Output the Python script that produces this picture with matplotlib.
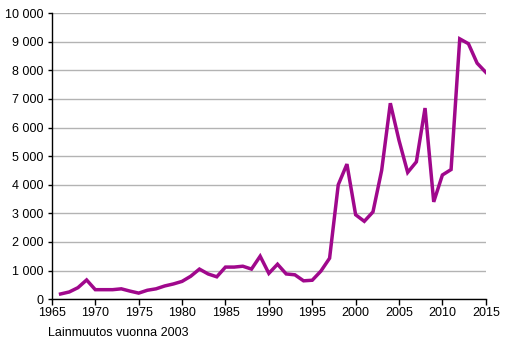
import matplotlib
matplotlib.use('Agg')
import matplotlib.pyplot as plt
from matplotlib.ticker import FuncFormatter

plt.rcParams['font.family'] = ['Liberation Sans', 'DejaVu Sans']

# ── 데이터 ──
years = list(range(1966, 2016))
values = [180, 250, 400, 670, 330, 330, 330, 360, 280, 210,
          310, 360, 460, 530, 620, 800, 1050, 880, 780, 1120,
          1120, 1150, 1050, 1500, 900, 1220, 880, 850, 640, 660,
          980, 1430, 4000, 4720, 2950, 2720, 3050, 4500, 6850, 5550,
          4430, 4800, 6680, 3400, 4340, 4530, 9100, 8930, 8250, 7930]
x_ticks = list(range(1965, 2020, 5))
y_ticks = list(range(0, 11000, 1000))

fig = plt.figure(figsize=(5.19, 3.45), dpi=100)
ax = fig.add_axes([0.100, 0.133, 0.836, 0.829])

ax.plot(years, values, color='#a0088c', linewidth=2.5, solid_joinstyle='miter')

ax.set_xlim(1965, 2015)
ax.set_ylim(0, 10000)
ax.set_xticks(x_ticks)
ax.set_yticks(y_ticks)
ax.yaxis.set_major_formatter(FuncFormatter(lambda v, p: f"{int(v):,}".replace(",", " ")))
ax.grid(axis='y', color='#b3b3b3', linewidth=1)
ax.set_axisbelow(True)

for s in ['top', 'right']:
    ax.spines[s].set_visible(False)
for s in ['left', 'bottom']:
    ax.spines[s].set_color('black')
    ax.spines[s].set_linewidth(1)

ax.tick_params(axis='x', length=4, width=1, labelsize=9, pad=2, direction='out')
ax.tick_params(axis='y', length=3, width=1, labelsize=9, pad=3, direction='out')

fig.text(48 / 519, 1 - 333 / 345, "Lainmuutos vuonna 2003", fontsize=9, va='center', ha='left')

plt.savefig("out.png", dpi=100)
